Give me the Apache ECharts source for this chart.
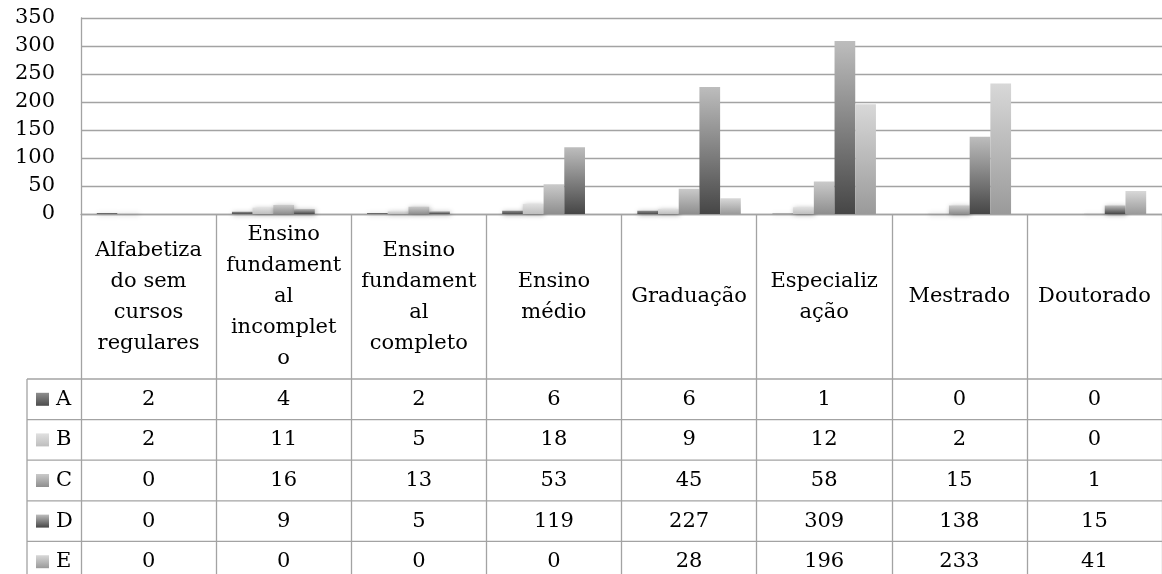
<!DOCTYPE html>
<html>
<head>
<meta charset="utf-8">
<script src="https://cdn.jsdelivr.net/npm/echarts@6/dist/echarts.min.js"></script>
<style>
  html, body { margin: 0; padding: 0; background: #fff; }
  #chart { width: 1162px; height: 574px; }
</style>
</head>
<body>
<div id="chart"></div>
<script>
// Education level per group, shown as clustered columns with a data table below
const categories = ['Alfabetizado sem cursos regulares', 'Ensino fundamental incompleto', 'Ensino fundamental completo', 'Ensino médio', 'Graduação', 'Especialização', 'Mestrado', 'Doutorado'];
const categoryLabels = ['Alfabetiza\ndo sem\ncursos\nregulares', 'Ensino\nfundament\nal\nincomplet\no', 'Ensino\nfundament\nal\ncompleto', 'Ensino\nmédio', 'Graduação', 'Especializ\nação', 'Mestrado', 'Doutorado'];
const seriesNames = ['A', 'B', 'C', 'D', 'E'];
const valuesA = [2, 4, 2, 6, 6, 1, 0, 0];
const valuesB = [2, 11, 5, 18, 9, 12, 2, 0];
const valuesC = [0, 16, 13, 53, 45, 58, 15, 1];
const valuesD = [0, 9, 5, 119, 227, 309, 138, 15];
const valuesE = [0, 0, 0, 0, 28, 196, 233, 41];
const yMin = 0, yMax = 350, yStep = 50;

const seriesValues = [valuesA, valuesB, valuesC, valuesD, valuesE];
// top / bottom shades of each series' gradient
const shades = [
  ['#8e8e8e', '#4c4c4c'],
  ['#e0e0e0', '#bebebe'],
  ['#cacaca', '#8e8e8e'],
  ['#bdbdbd', '#464646'],
  ['#d8d8d8', '#9a9a9a']
];
const FONT = 'DejaVu Serif';
const FS = 21;
const LINE = '#a3a3a3';

function grad(c) {
  return new echarts.graphic.LinearGradient(0, 0, 0, 1, [
    { offset: 0, color: c[0] },
    { offset: 1, color: c[1] }
  ]);
}

const chart = echarts.init(document.getElementById('chart'), null, { renderer: 'canvas' });

const option = {
  animation: false,
  backgroundColor: '#fff',
  grid: { left: 81, right: 0, top: 18, height: 196, containLabel: false },
  xAxis: {
    type: 'category',
    data: categories,
    axisLine: { show: true, lineStyle: { color: LINE, width: 1.3 } },
    axisTick: { show: true, interval: 0, length: 370, lineStyle: { color: LINE, width: 1.3 } },
    axisLabel: {
      interval: 0,
      margin: 83,
      verticalAlign: 'middle',
      fontFamily: FONT,
      fontSize: FS,
      lineHeight: 31,
      color: '#000',
      formatter: (v, i) => categoryLabels[i]
    },
    splitLine: { show: false }
  },
  yAxis: {
    type: 'value',
    min: yMin,
    max: yMax,
    interval: yStep,
    axisLine: { show: true, lineStyle: { color: LINE, width: 1.3 } },
    axisTick: { show: false },
    axisLabel: { margin: 26, fontFamily: FONT, fontSize: FS, color: '#000' },
    splitLine: { show: true, lineStyle: { color: LINE, width: 1.3 } }
  },
  series: seriesNames.map((name, k) => ({
    name,
    type: 'bar',
    data: seriesValues[k],
    barGap: '0%',
    barCategoryGap: '23.4%',
    itemStyle: {
      color: grad(shades[k]),
      shadowBlur: 5,
      shadowColor: 'rgba(0,0,0,0.35)',
      shadowOffsetX: 1,
      shadowOffsetY: 1
    }
  }))
};

chart.setOption(option);

// Data table under the category header
(function drawTable() {
  const c0 = chart.convertToPixel({ xAxisIndex: 0 }, 0);
  const tableLeft = 27;
  const right = chart.getWidth();
  const headerBottom = 379;
  const rowH = 40.6;
  const els = [];

  for (let r = 0; r <= seriesNames.length; r++) {
    const y = headerBottom + r * rowH;
    els.push({
      type: 'line',
      shape: { x1: tableLeft, y1: y, x2: right, y2: y },
      style: { stroke: LINE, lineWidth: 1.3 },
      silent: true
    });
  }
  els.push({
    type: 'line',
    shape: { x1: tableLeft, y1: headerBottom, x2: tableLeft, y2: chart.getHeight() },
    style: { stroke: LINE, lineWidth: 1.3 },
    silent: true
  });

  seriesNames.forEach((name, r) => {
    const cy = headerBottom + (r + 0.5) * rowH;
    els.push({
      type: 'rect',
      shape: { x: 36, y: cy - 6.5, width: 13, height: 13 },
      style: { fill: grad(shades[r]) },
      silent: true
    });
    els.push({
      type: 'text',
      x: 56, y: cy,
      style: { text: name, fontFamily: FONT, fontSize: FS, fill: '#000', align: 'left', verticalAlign: 'middle' },
      silent: true
    });
    seriesValues[r].forEach((v, i) => {
      els.push({
        type: 'text',
        x: chart.convertToPixel({ xAxisIndex: 0 }, i),
        y: cy,
        style: { text: String(v), fontFamily: FONT, fontSize: FS, fill: '#000', align: 'center', verticalAlign: 'middle' },
        silent: true
      });
    });
  });

  chart.setOption({ graphic: { elements: els } });
})();
</script>
</body>
</html>
